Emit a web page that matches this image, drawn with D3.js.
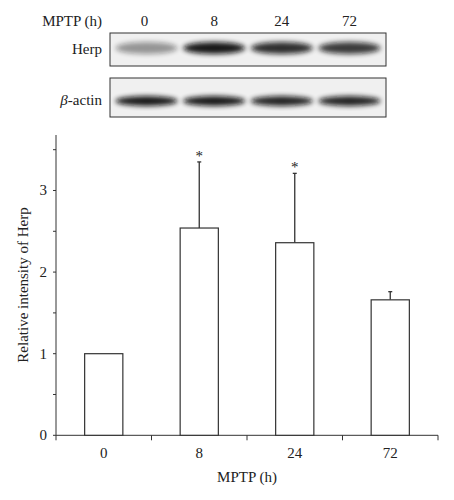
<!DOCTYPE html>
<html><head><meta charset="utf-8">
<script src="https://cdn.jsdelivr.net/npm/d3@7"></script>
<style>body{margin:0;background:#fff}text{font-family:"Liberation Serif","Times New Roman",serif;fill:#222}</style>
</head><body><svg id="c" width="454" height="500"></svg>
<script>
const categories = ["0","8","24","72"];
const means = [1.0, 2.54, 2.36, 1.66];
const errors = [0.0, 0.81, 0.85, 0.10];
const significant = [false, true, true, false];
const yTicks = [0,1,2,3];
const herpIntensity = [0.4, 0.95, 0.85, 0.8];
const actinIntensity = [0.95, 0.95, 0.9, 0.9];
const FS = 15;

const svg = d3.select("#c");
const defs = svg.append("defs");
defs.append("filter").attr("id","blur").attr("x","-20%").attr("y","-50%").attr("width","140%").attr("height","200%")
  .append("feGaussianBlur").attr("stdDeviation",2.5);

const laneX = d3.scaleBand().domain(categories).range([110,386]).padding(0.08);
svg.append("text").attr("x",102).attr("y",26).attr("text-anchor","end").attr("font-size",FS).text("MPTP (h)");
svg.selectAll(".ll").data(categories).join("text").attr("x",d=>laneX(d)+laneX.bandwidth()/2+(d==="0"?-2:0)).attr("y",26)
  .attr("text-anchor","middle").attr("font-size",FS).text(d=>d);
const blots = [{name:"Herp",y0:33,y1:66,vals:herpIntensity,by:48,bh:12},{name:"actin",y0:78,y1:117,vals:actinIntensity,by:101,bh:10}];
blots.forEach(b=>{
  const g = svg.append("g");
  g.append("rect").attr("x",110).attr("y",b.y0).attr("width",276).attr("height",b.y1-b.y0).attr("fill","#f0f0f0").attr("stroke","#333").attr("stroke-width",1);
  const cp = "clip"+b.name;
  defs.append("clipPath").attr("id",cp).append("rect").attr("x",111).attr("y",b.y0+1).attr("width",274).attr("height",b.y1-b.y0-2);
  g.append("g").attr("clip-path",`url(#${cp})`).selectAll("ellipse").data(b.vals.map((v,i)=>({v,c:categories[i]}))).join("ellipse")
    .attr("cx",d=>laneX(d.c)+laneX.bandwidth()/2).attr("cy",b.by).attr("rx",laneX.bandwidth()/2)
    .attr("ry",b.bh/2).attr("fill","#111").attr("opacity",d=>d.v).attr("filter","url(#blur)");
});
svg.append("text").attr("x",102).attr("y",54).attr("text-anchor","end").attr("font-size",FS).text("Herp");
const ba = svg.append("text").attr("x",102).attr("y",105).attr("text-anchor","end").attr("font-size",FS);
ba.append("tspan").attr("font-style","italic").text("β");ba.append("tspan").text("-actin");

const x = d3.scaleBand().domain(categories).range([56,438]).paddingInner(0.6).paddingOuter(0.3);
const y = d3.scaleLinear().domain([0,3.68]).range([435.3,135]);
const gx = svg.append("g").attr("transform","translate(0,435.3)");
gx.append("line").attr("x1",56).attr("x2",438).attr("stroke","#333");
const band = (438-56)/4;
gx.selectAll(".t").data(d3.range(5)).join("line").attr("x1",i=>56+i*band).attr("x2",i=>56+i*band).attr("y1",0).attr("y2",5).attr("stroke","#333");
gx.selectAll(".l").data(categories).join("text").attr("x",d=>x(d)+x.bandwidth()/2).attr("y",23).attr("text-anchor","middle").attr("font-size",FS).text(d=>d);
const gy = svg.append("g").attr("transform","translate(56,0)");
gy.append("line").attr("y1",y(0)).attr("y2",y(3.68)).attr("stroke","#333");
gy.selectAll(".t").data(d3.range(0,3.6,0.5)).join("line").attr("x1",-3).attr("x2",0).attr("y1",d=>y(d)).attr("y2",d=>y(d)).attr("stroke","#333");
gy.selectAll(".l").data(yTicks).join("text").attr("x",-9).attr("y",d=>y(d)+5).attr("text-anchor","end").attr("font-size",FS).text(d=>d);
svg.append("text").attr("transform","translate(28,285) rotate(-90)").attr("text-anchor","middle").attr("font-size",FS).text("Relative intensity of Herp");
svg.append("text").attr("x",247).attr("y",482).attr("text-anchor","middle").attr("font-size",FS).text("MPTP (h)");

const data = categories.map((c,i)=>({c,m:means[i],e:errors[i],s:significant[i]}));
const cx = d=>x(d.c)+x.bandwidth()/2;
svg.selectAll(".eb").data(data.filter(d=>d.e>0)).join("line").attr("x1",cx).attr("x2",cx).attr("y1",d=>y(d.m)).attr("y2",d=>y(d.m+d.e)).attr("stroke","#333").attr("stroke-width",1.3);
svg.selectAll(".ec").data(data.filter(d=>d.e>0)).join("line").attr("x1",d=>cx(d)-2).attr("x2",d=>cx(d)+2).attr("y1",d=>y(d.m+d.e)).attr("y2",d=>y(d.m+d.e)).attr("stroke","#333").attr("stroke-width",1.3);
svg.selectAll(".bar").data(data).join("rect").attr("x",d=>x(d.c)).attr("y",d=>y(d.m)).attr("width",x.bandwidth()).attr("height",d=>y(0)-y(d.m)).attr("fill","#fff").attr("stroke","#333").attr("stroke-width",1.2);
svg.selectAll(".st").data(data.filter(d=>d.s)).join("text").attr("x",cx).attr("y",d=>y(d.m+d.e)-1).attr("text-anchor","middle").attr("font-size",FS).text("*");
</script></body></html>
